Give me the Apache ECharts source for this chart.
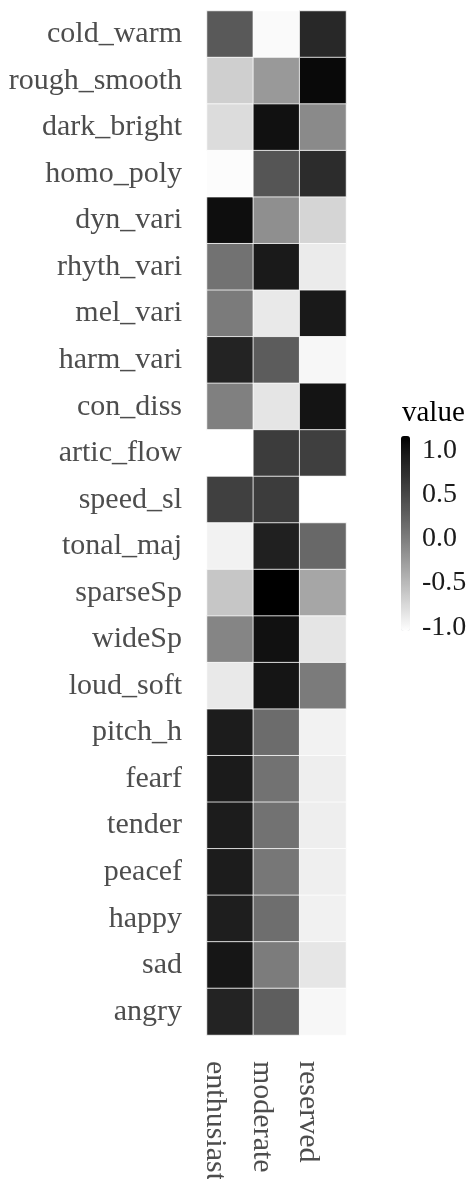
<!DOCTYPE html>
<html>
<head>
<meta charset="utf-8">
<script src="https://cdn.jsdelivr.net/npm/echarts@6/dist/echarts.min.js"></script>
<style>
html,body{margin:0;padding:0;background:#fff;}
#chart{width:471px;height:1179px;}
</style>
</head>
<body>
<div id="chart"></div>
<script>
// ---- data ----
const features = ['cold_warm','rough_smooth','dark_bright','homo_poly','dyn_vari','rhyth_vari','mel_vari','harm_vari','con_diss','artic_flow','speed_sl','tonal_maj','sparseSp','wideSp','loud_soft','pitch_h','fearf','tender','peacef','happy','sad','angry'];
const groups = ['enthusiast','moderate','reserved'];
const enthusiast = [0.33,-0.67,-0.77,-1.02,1.05,0.10,0.03,0.86,-0.02,-1.04,0.57,-0.94,-0.60,-0.06,-0.87,0.93,0.94,0.93,0.93,0.91,0.98,0.86];
const moderate   = [-1.00,-0.23,1.02,0.37,-0.14,0.95,-0.87,0.30,-0.84,0.61,0.61,0.89,1.16,1.02,0.99,0.16,0.10,0.10,0.06,0.14,0.02,0.28];
const reserved   = [0.80,1.09,-0.10,0.76,-0.72,-0.89,0.96,-0.98,1.00,0.58,-1.04,0.19,-0.34,-0.84,0.03,-0.94,-0.91,-0.91,-0.92,-0.93,-0.85,-0.98];
const legendTicks = [-1.0,-0.5,0.0,0.5,1.0];
const valueMin = -1.04, valueMax = 1.16;

const cols = [enthusiast, moderate, reserved];
const heatData = [];
cols.forEach((arr, xi) => arr.forEach((v, yi) => heatData.push([xi, yi, v])));

const FONT = '"Liberation Serif","Times New Roman",serif';
const chart = echarts.init(document.getElementById('chart'), null, {renderer:'canvas'});
chart.setOption({
  backgroundColor:'#ffffff',
  animation:false,
  grid:[
    {left:207, top:11, width:139, height:1024, containLabel:false, outerBoundsMode:'none'},
    {left:401, top:436, width:9, height:195, containLabel:false, outerBoundsMode:'none'}
  ],
  xAxis:[
    {type:'category', gridIndex:0, data:groups, position:'bottom',
     axisLine:{show:false}, axisTick:{show:false}, splitLine:{show:false},
     axisLabel:{rotate:-90, margin:26, align:'left', verticalAlign:'top',
       fontFamily:FONT, fontSize:30, color:'#4d4d4d'}},
    {type:'value', gridIndex:1, show:false, min:0, max:1}
  ],
  yAxis:[
    {type:'category', gridIndex:0, data:features, inverse:true,
     axisLine:{show:false}, axisTick:{show:false}, splitLine:{show:false},
     axisLabel:{margin:25, padding:[6,0,0,0], fontFamily:FONT, fontSize:30, color:'#4d4d4d'}},
    {type:'value', gridIndex:1, position:'right', min:valueMin, max:valueMax,
     axisLine:{show:false}, splitLine:{show:false},
     axisTick:{show:true, inside:true, length:2, lineStyle:{color:'#ffffff', width:1}, customValues:legendTicks},
     axisLabel:{margin:12, padding:[2,0,0,0], fontFamily:FONT, fontSize:28, color:'#1a1a1a', customValues:legendTicks,
       formatter:(v)=>Number(v).toFixed(1)}},
    {type:'value', gridIndex:1, position:'left', min:valueMin, max:valueMax,
     axisLine:{show:false}, splitLine:{show:false},
     axisTick:{show:true, inside:true, length:2, lineStyle:{color:'#ffffff', width:1}, customValues:legendTicks},
     axisLabel:{show:false}}
  ],
  visualMap:{
    type:'continuous', min:valueMin, max:valueMax, calculable:false,
    seriesIndex:0, left:401, top:436, itemWidth:9, itemHeight:195, padding:0,
    orient:'vertical',
    inRange:{color:['#ffffff','#e2e2e2','#c6c6c6','#ababab','#919191','#777777','#5e5e5e','#474747','#303030','#1b1b1b','#000000']}
  },
  title:{text:'value', left:402, top:399, padding:0,
    textStyle:{fontFamily:FONT, fontSize:29, fontWeight:'normal', color:'#000'}},
  series:[{
    type:'heatmap', xAxisIndex:0, yAxisIndex:0, data:heatData,
    itemStyle:{borderColor:'#ffffff', borderWidth:0.8},
    emphasis:{disabled:true}
  }]
});
</script>
</body>
</html>
